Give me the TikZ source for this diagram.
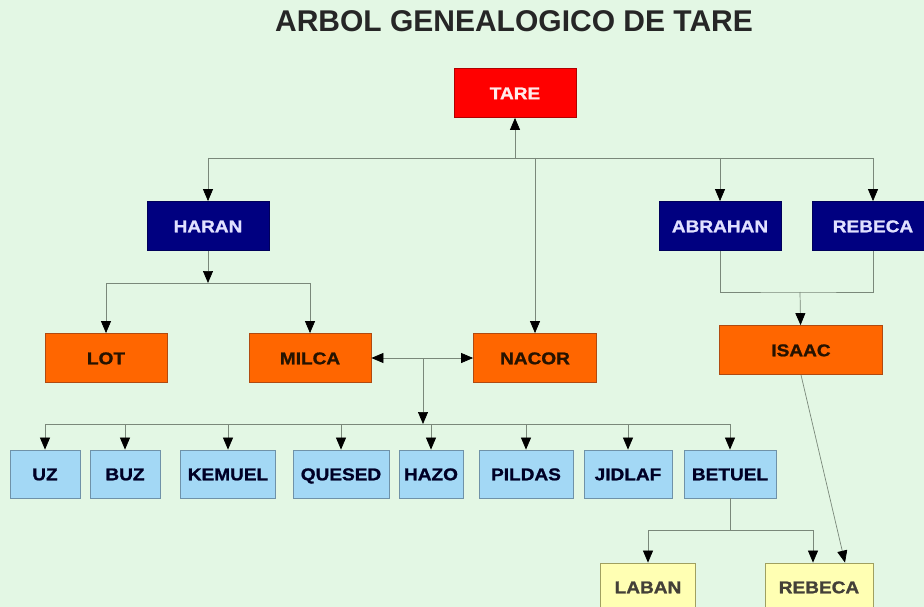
\documentclass[tikz,border=0pt]{standalone}
\usepackage{fontspec}
\setmainfont{Liberation Sans}
\newfontfamily\boxfont[FakeStretch=1.12,BoldFeatures={FakeBold=1.2}]{Liberation Sans}
\usetikzlibrary{arrows.meta}
\definecolor{bggreen}{HTML}{E3F7E4}
\definecolor{linegray}{HTML}{7A887A}
\definecolor{tarered}{HTML}{FF0000}
\definecolor{tareline}{HTML}{B00000}
\definecolor{navybox}{HTML}{000080}
\definecolor{navyline}{HTML}{00005A}
\definecolor{orangebox}{HTML}{FF6600}
\definecolor{orangeline}{HTML}{B04A10}
\definecolor{skybox}{HTML}{A3D8F5}
\definecolor{skyline}{HTML}{6F92A8}
\definecolor{yellowbox}{HTML}{FFFFB3}
\definecolor{yellowline}{HTML}{A0A060}
\begin{document}
\begin{tikzpicture}[x=1pt,y=-1pt,
		tip/.tip={Triangle[width=10pt,length=12pt,color=black]},
		line/.style={draw=linegray,line width=0.7pt},
		arrow/.style={line,-tip},
		person/.style={draw,line width=0.8pt,inner sep=0pt,minimum height=49pt,text height=12.5pt,text depth=0pt,font=\boxfont\bfseries\fontsize{17}{17}\selectfont},
		root/.style={person,fill=tarered,draw=tareline,text=white!92!red},
		elder/.style={person,fill=navybox,draw=navyline,text=white!88!blue},
		son/.style={person,fill=orangebox,draw=orangeline,text=black!85!orange},
		grandson/.style={person,minimum height=48pt,fill=skybox,draw=skyline,text=black!85!blue},
		lastgen/.style={person,minimum height=48pt,fill=yellowbox,draw=yellowline,text=black!85!yellow}]
	\fill[bggreen] (0,0) rectangle (924,607);
	\useasboundingbox (0,0) rectangle (924,607);
	\node[font=\bfseries\fontsize{30}{30}\selectfont,text=black!85] (title) at (514,21) {ARBOL GENEALOGICO DE TARE};

	\node[root,minimum width=122pt] (tare) at (515,93) {TARE};
	\node[elder,minimum width=122pt] (haran) at (208,226) {HARAN};
	\node[elder,minimum width=122pt] (abrahan) at (720,226) {ABRAHAN};
	\node[elder,minimum width=122pt] (rebeca) at (873,226) {REBECA};
	\node[son,minimum width=122pt] (lot) at (106,358) {LOT};
	\node[son,minimum width=122pt] (milca) at (310,358) {MILCA};
	\node[son,minimum width=123pt] (nacor) at (535,358) {NACOR};
	\node[son,minimum width=163pt] (isaac) at (801,350) {ISAAC};
	\node[grandson,minimum width=70pt] (uz) at (45,474) {UZ};
	\node[grandson,minimum width=70pt] (buz) at (125,474) {BUZ};
	\node[grandson,minimum width=95pt] (kemuel) at (228,474) {KEMUEL};
	\node[grandson,minimum width=96pt] (quesed) at (341,474) {QUESED};
	\node[grandson,minimum width=64pt] (hazo) at (431,474) {HAZO};
	\node[grandson,minimum width=94pt] (pildas) at (526,474) {PILDAS};
	\node[grandson,minimum width=88pt] (jidlaf) at (628,474) {JIDLAF};
	\node[grandson,minimum width=92pt] (betuel) at (730,474) {BETUEL};
	\node[lastgen,minimum width=95pt] (laban) at (648,587) {LABAN};
	\node[lastgen,minimum width=108pt] (rebecb) at (819,587) {REBECA};

	\coordinate (jt) at (515,158);
	\draw[arrow] (jt) -- (tare);
	\draw[line] (haran.north |- jt) -- (rebeca.north |- jt);
	\foreach \n in {haran,abrahan,rebeca,nacor}
		\draw[arrow] (\n.north |- jt) -- (\n.north);

	\coordinate (jh) at (208,283);
	\draw[arrow] (haran) -- (jh);
	\draw[line] (lot.north |- jh) -- (milca.north |- jh);
	\foreach \n in {lot,milca}
		\draw[arrow] (\n.north |- jh) -- (\n.north);

	\coordinate (jp) at (800,292);
	\draw[line] (abrahan.south) |- (jp) -| (rebeca.south);
	\draw[arrow] (jp) -- (isaac);

	\coordinate (jm) at (423,358);
	\coordinate (jc) at (423,424);
	\draw[line,tip-tip] (milca) -- (nacor);
	\draw[arrow] (jm) -- (jc);
	\draw[line] (uz.north |- jc) -- (betuel.north |- jc);
	\foreach \n in {uz,buz,kemuel,quesed,hazo,pildas,jidlaf,betuel}
		\draw[arrow] (\n.north |- jc) -- (\n.north);

	\coordinate (jb) at (730,530);
	\coordinate (rb) at ([xshift=-6pt]rebecb.north);
	\coordinate (ri) at ([xshift=26pt]rebecb.north);
	\draw[line] (betuel) -- (jb);
	\draw[line] (laban.north |- jb) -- (rb |- jb);
	\draw[arrow] (laban.north |- jb) -- (laban.north);
	\draw[arrow] (rb |- jb) -- (rb);
	\draw[arrow] (isaac.south) -- (ri);
\end{tikzpicture}
\end{document}
